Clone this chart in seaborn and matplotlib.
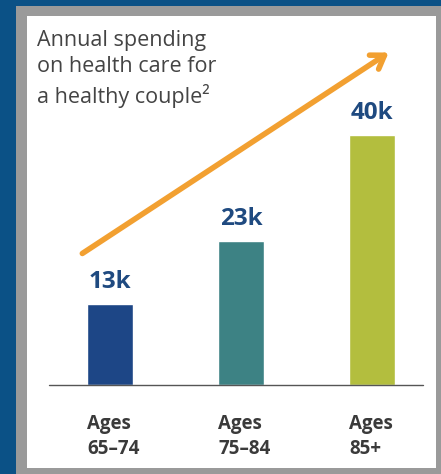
import matplotlib.pyplot as plt
import matplotlib.patches as patches
import pandas as pd
import seaborn as sns

# data
age_groups = ['65-74', '75-84', '85+']
tick_labels = ['Ages\n65–74', 'Ages\n75–84', 'Ages\n85+']
spending_k = [13, 23, 40]
bar_labels = ['13k', '23k', '40k']
bar_colors = ['#1d4686', '#3d8284', '#b3be3e']

df = pd.DataFrame({'age': age_groups, 'spending': spending_k})

sns.set_style('white')
plt.rcParams['font.family'] = ['Open Sans', 'DejaVu Sans']

fig = plt.figure(figsize=(4.41, 4.74), dpi=100, facecolor='#0b5186')
# gray frame behind the white panel
fig.patches.append(patches.Rectangle((16 / 441, 0), 1 - 16 / 441, 1 - 6 / 474,
                                     transform=fig.transFigure, facecolor='#9a9a9a',
                                     edgecolor='none', zorder=-10))
ax = fig.add_axes([27 / 441, 6 / 474, 409 / 441, 452 / 474], facecolor='white')
ax.set_zorder(5)

sns.barplot(data=df, x='age', y='spending', hue='age', palette=bar_colors,
            width=0.35, legend=False, ax=ax, saturation=1)

ax.set_xlim(-0.634, 2.489)
ax.set_ylim(-13.3, 59.0)
for s in ax.spines.values():
    s.set_visible(False)
ax.set_xticks([])
ax.set_yticks([])
ax.set_xlabel('')
ax.set_ylabel('')

# baseline
ax.plot([-0.466, 2.389], [0, 0], color='#555555', lw=1.0)

# value labels and category labels
for i, v in enumerate(spending_k):
    ax.text(i, v + 1.6, bar_labels[i], ha='center', va='bottom', fontsize=17.5,
            fontweight='bold', color='#1f4a80')
    ax.text(i - 0.175, -4.6, tick_labels[i], ha='left', va='top', fontsize=13.5,
            fontweight='bold', color='#3a3a3a', linespacing=1.35)

# rising arrow
ax.annotate('', xy=(364 / 409, 417 / 452), xytext=(53 / 409, 213 / 452),
            xycoords='axes fraction', textcoords='axes fraction',
            arrowprops=dict(arrowstyle='->,head_length=0.9,head_width=0.6',
                            color='#f2a031', lw=4))

ax.text(10 / 409, 1 - 14 / 452, 'Annual spending\non health care for\na healthy couple²',
        transform=ax.transAxes, ha='left', va='top', fontsize=15.5, color='#444444',
        linespacing=1.33)

plt.savefig('out.png', dpi=100, facecolor=fig.get_facecolor())
